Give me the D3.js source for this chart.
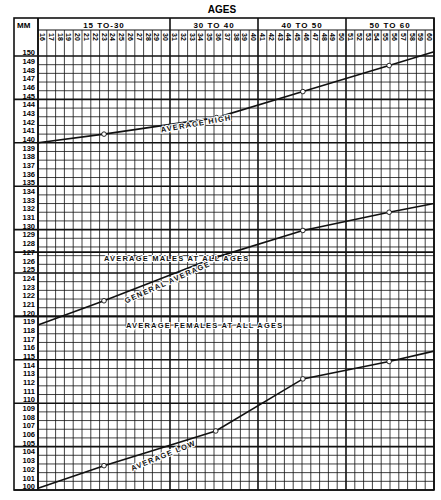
<!DOCTYPE html>
<html><head><meta charset="utf-8">
<script src="https://cdn.jsdelivr.net/npm/d3@7"></script>
<style>body{margin:0;background:#fff}</style></head>
<body><svg id="c" width="441" height="500"></svg>
<script>
const groups = [{label:"15 TO-30",from:15,to:30},{label:"30 TO 40",from:30,to:40},{label:"40 TO 50",from:40,to:50},{label:"50 TO 60",from:50,to:60}];
const ages = d3.range(16,61);
const yTicks = d3.range(100,151);
const avgHigh = [[15,140],[22.5,141],[35.3,142.9],[45.1,145.9],[54.9,148.9],[60,150.5]];
const genAvg  = [[15,119],[22.5,121.8],[35.2,126.8],[45.1,129.9],[54.9,132],[60,133]];
const avgLow  = [[15,100.2],[22.5,102.8],[35.2,106.8],[45.1,112.8],[54.9,114.8],[60,116]];
const males = 127.4, females = 120;

const svg = d3.select("#c"), ink="#111";
const x = d3.scaleLinear().domain([15,60]).range([38,434]);
const y = d3.scaleLinear().domain([100,150]).range([490,56]);
const F = "Liberation Sans, Arial, sans-serif";

svg.append("text").attr("x",222).attr("y",13).attr("text-anchor","middle").attr("font-family",F)
  .attr("font-weight","bold").attr("font-size",10).text("AGES");
const g = svg.append("g").attr("stroke",ink).attr("fill","none");
yTicks.forEach(v=>g.append("line").attr("x1",v%5==0?14:38).attr("x2",434).attr("y1",y(v)).attr("y2",y(v)).attr("stroke-width",v%5==0?1.6:0.8));
d3.range(15,61).forEach(a=>{
  const thick = groups.some(gr=>gr.from==a||gr.to==a);
  g.append("line").attr("x1",x(a)).attr("x2",x(a)).attr("y1",thick?18:30).attr("y2",490).attr("stroke-width",thick?1.6:0.8);
});
g.append("rect").attr("x",14).attr("y",18).attr("width",420).attr("height",472).attr("stroke-width",1.6);
g.append("line").attr("x1",38).attr("x2",434).attr("y1",30).attr("y2",30).attr("stroke-width",1.2);
g.append("line").attr("x1",38).attr("x2",38).attr("y1",18).attr("y2",490).attr("stroke-width",1.6);
g.append("line").attr("x1",14).attr("x2",434).attr("y1",y(males)).attr("y2",y(males)).attr("stroke-width",1.6);
g.append("line").attr("x1",14).attr("x2",434).attr("y1",y(females)).attr("y2",y(females)).attr("stroke-width",1.6);

groups.forEach(gr=>svg.append("text").attr("x",(x(gr.from)+x(gr.to))/2).attr("y",27.5).attr("text-anchor","middle")
  .attr("font-family",F).attr("font-weight","bold").attr("font-size",8).attr("letter-spacing",1).text(gr.label));
ages.forEach(a=>svg.append("text").attr("transform",`translate(${x(a-1)+2},33) rotate(90)`)
  .attr("font-family",F).attr("font-weight","bold").attr("font-size",7).text(a));
svg.append("text").attr("x",17).attr("y",28).attr("font-family",F).attr("font-weight","bold").attr("font-size",8).text("MM");
yTicks.forEach(v=>svg.append("text").attr("x",35).attr("y",y(v)-0.8).attr("text-anchor","end")
  .attr("font-family",F).attr("font-weight","bold").attr("font-size",7.5).text(v));

const line = d3.line().x(d=>x(d[0])).y(d=>y(d[1]));
[avgHigh,genAvg,avgLow].forEach(s=>{
  svg.append("path").attr("d",line(s)).attr("fill","none").attr("stroke",ink).attr("stroke-width",1.6);
  svg.selectAll(null).data(s.slice(1,-1)).enter().append("circle").attr("cx",d=>x(d[0])).attr("cy",d=>y(d[1]))
    .attr("r",2.3).attr("fill","#fff").attr("stroke",ink).attr("stroke-width",0.9);
});
function lbl(t,a,v,ang){svg.append("text").attr("transform",`translate(${x(a)},${y(v)}) rotate(${ang})`)
  .attr("font-family",F).attr("font-weight","bold").attr("font-size",7.5).attr("letter-spacing",1.2).attr("fill",ink)
  .attr("paint-order","stroke").attr("stroke","#fff").attr("stroke-width",2).text(t);}
lbl("AVERAGE  HIGH",29,141.2,-10);
lbl("GENERAL  AVERAGE",25,121.5,-24);
lbl("AVERAGE  LOW",25.7,102.2,-22);
lbl("AVERAGE   MALES   AT         ALL   AGES",22.5,126.4,0);
lbl("AVERAGE  FEMALES  AT  ALL  AGES",25,118.7,0);
</script></body></html>
